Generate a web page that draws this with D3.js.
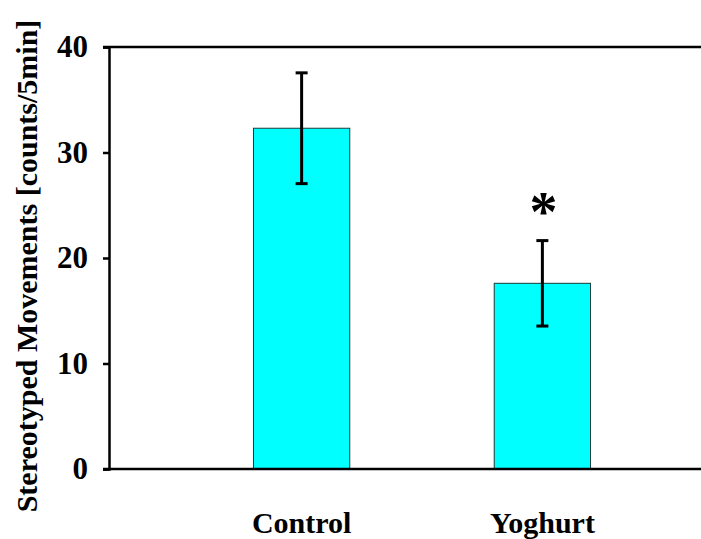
<!DOCTYPE html>
<html lang="en">
<head>
<meta charset="UTF-8">
<title>Stereotyped Movements</title>
<script src="https://d3js.org/d3.v7.min.js"></script>
<style>
  body { margin: 0; background: #fff; }
  text { font-family: "Liberation Serif", "Times New Roman", serif; font-weight: bold; }
</style>
</head>
<body>
<svg id="chart" width="701" height="539"></svg>
<script>
// data
const groups = ["Control", "Yoghurt"];
const means = [32.3, 17.6];
const errors = [5.25, 4.05];
const marks = ["", "*"];
const yTicks = [0, 10, 20, 30, 40];

const svg = d3.select("#chart");
const plotLeft = 109, plotTop = 47, plotBottom = 469, plotRight = 735;

const x = d3.scaleBand()
    .domain(groups)
    .range([plotLeft, plotRight])
    .paddingInner(0.6)
    .paddingOuter(0.6);

const y = d3.scaleLinear()
    .domain([0, 40])
    .range([plotBottom, plotTop]);

const rows = groups.map((g, i) => ({ g, m: means[i], e: errors[i], s: marks[i] }));

// bars
svg.selectAll("rect.bar")
    .data(rows)
    .enter().append("rect")
    .attr("class", "bar")
    .attr("x", d => x(d.g))
    .attr("y", d => y(d.m))
    .attr("width", x.bandwidth())
    .attr("height", d => y(0) - y(d.m))
    .attr("fill", "#00ffff")
    .attr("stroke", "#1a3a3a")
    .attr("stroke-width", 1);

// error bars
const eb = svg.selectAll("g.err")
    .data(rows)
    .enter().append("g")
    .attr("class", "err")
    .attr("stroke", "#000")
    .attr("stroke-width", 3);
eb.append("line")
    .attr("x1", d => x(d.g) + x.bandwidth() / 2)
    .attr("x2", d => x(d.g) + x.bandwidth() / 2)
    .attr("y1", d => y(d.m - d.e))
    .attr("y2", d => y(d.m + d.e));
eb.selectAll("line.cap")
    .data(d => [[d, d.m - d.e], [d, d.m + d.e]])
    .enter().append("line")
    .attr("class", "cap")
    .attr("x1", d => x(d[0].g) + x.bandwidth() / 2 - 6)
    .attr("x2", d => x(d[0].g) + x.bandwidth() / 2 + 6)
    .attr("y1", d => y(d[1]))
    .attr("y2", d => y(d[1]));

// significance marks
svg.selectAll("text.sig")
    .data(rows)
    .enter().append("text")
    .attr("class", "sig")
    .attr("x", d => x(d.g) + x.bandwidth() / 2 + 1)
    .attr("y", d => y(d.m + d.e) - 10)
    .attr("text-anchor", "middle")
    .style("font-size", "56px")
    .text(d => d.s);

// frame line at the top
svg.append("line")
    .attr("x1", plotLeft - 6).attr("x2", 701)
    .attr("y1", y(40)).attr("y2", y(40))
    .attr("stroke", "#000").attr("stroke-width", 2.5);

// y axis
const yAxis = svg.append("g")
    .attr("transform", `translate(${plotLeft},0)`)
    .call(d3.axisLeft(y).tickValues(yTicks).tickSize(6).tickPadding(15));
yAxis.select(".domain").attr("stroke-width", 2.5);
yAxis.selectAll(".tick line").attr("stroke-width", 2.5);
yAxis.selectAll(".tick text")
    .attr("fill", "#000")
    .style("font-size", "31px")
    .style("font-family", "'Liberation Serif', serif")
    .style("font-weight", "bold");

// x axis baseline
svg.append("line")
    .attr("x1", plotLeft - 6).attr("x2", 701)
    .attr("y1", y(0)).attr("y2", y(0))
    .attr("stroke", "#000").attr("stroke-width", 2.5);

// category labels
svg.selectAll("text.cat")
    .data(groups)
    .enter().append("text")
    .attr("class", "cat")
    .attr("x", d => x(d) + x.bandwidth() / 2)
    .attr("y", 533)
    .attr("text-anchor", "middle")
    .style("font-size", "30px")
    .text(d => d);

// y title
svg.append("text")
    .attr("transform", "translate(37,266) rotate(-90)")
    .attr("text-anchor", "middle")
    .style("font-size", "30px")
    .text("Stereotyped Movements [counts/5min]");
</script>
</body>
</html>
